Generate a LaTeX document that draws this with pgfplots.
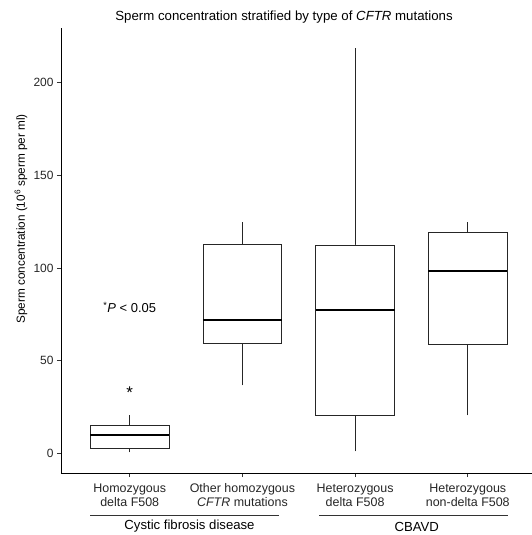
\documentclass[border=0pt]{standalone}
\usepackage{fontspec}
\setmainfont{Liberation Sans}
\usepackage{pgfplots}
\pgfplotsset{compat=1.18}
\begin{document}
\begin{tikzpicture}
\useasboundingbox (-61bp,-62bp) rectangle (471bp,473bp);
\begin{axis}[
    at={(0,0)}, anchor=south west,
    scale only axis, width=471bp, height=445bp,
    xmin=0.39, xmax=4.57, ymin=-10.6, ymax=229.4,
    axis x line*=bottom, axis y line*=left,
    axis line style={black, line width=0.7bp, -},
    xtick={1,2,3,4}, ytick={0,50,100,150,200},
    xticklabels={{Homozygous\\delta F508},{Other homozygous\\\textit{CFTR} mutations},{Heterozygous\\delta F508},{Heterozygous\\non-delta F508}},
    xticklabel style={align=center, font=\fontsize{12.5}{14}\selectfont, text=black!85, yshift=-3bp},
    yticklabel style={font=\fontsize{12}{14}\selectfont, text=black!85},
    tick align=outside, major tick length=4bp,
    tick style={black!80, line width=0.6bp},
    /pgf/number format/assume math mode=true,
    clip=false,
    ylabel={Sperm concentration (10\textsuperscript{6} sperm per ml)},
    ylabel style={font=\fontsize{11.8}{13}\selectfont, at={(axis description cs:-0.085,0.571)}, anchor=center},
    whisk/.style={draw=black!85, line width=0.8bp},
    box/.style={draw=black!85, fill=white, line width=0.8bp, line join=miter},
    med/.style={draw=black, line width=2bp},
]
% box 1: Homozygous delta F508
\addplot[whisk] coordinates {(1,0.5) (1,20.5)};
\addplot[box] coordinates {(0.65,2.5) (1.35,2.5) (1.35,15.1) (0.65,15.1) (0.65,2.5)};
\addplot[med] coordinates {(0.65,9.7) (1.35,9.7)};
% box 2: Other homozygous CFTR
\addplot[whisk] coordinates {(2,36.7) (2,124.8)};
\addplot[box] coordinates {(1.65,59.5) (2.35,59.5) (2.35,112.6) (1.65,112.6) (1.65,59.5)};
\addplot[med] coordinates {(1.65,72.1) (2.35,72.1)};
% box 3: Heterozygous delta F508
\addplot[whisk] coordinates {(3,1.1) (3,218.7)};
\addplot[box] coordinates {(2.65,20.3) (3.35,20.3) (3.35,112.4) (2.65,112.4) (2.65,20.3)};
\addplot[med] coordinates {(2.65,77.3) (3.35,77.3)};
% box 4: Heterozygous non-delta F508
\addplot[whisk] coordinates {(4,20.5) (4,124.8)};
\addplot[box] coordinates {(3.65,58.8) (4.35,58.8) (4.35,119.0) (3.65,119.0) (3.65,58.8)};
\addplot[med] coordinates {(3.65,98.2) (4.35,98.2)};
\node[font=\fontsize{17}{19}\selectfont] at (axis cs:1,32.5) {*};
\node[font=\fontsize{13}{15}\selectfont] at (axis cs:1,78.7) {\textsuperscript{*}\textit{P} < 0.05};
\end{axis}
\node[font=\fontsize{13.3}{15}\selectfont] at (223bp,456bp) {Sperm concentration stratified by type of \textit{CFTR} mutations};
\draw[black!80, line width=0.6bp] (29bp,-42.7bp) -- (218bp,-42.7bp);
\draw[black!80, line width=0.6bp] (258bp,-42.7bp) -- (447bp,-42.7bp);
\node[font=\fontsize{13.2}{15}\selectfont] at (128.5bp,-53.5bp) {Cystic fibrosis disease};
\node[font=\fontsize{13.2}{15}\selectfont] at (355.7bp,-53.5bp) {CBAVD};
\end{tikzpicture}
\end{document}
